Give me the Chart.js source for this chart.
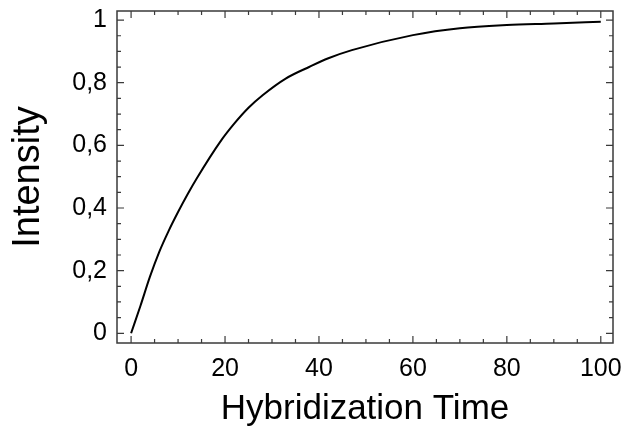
<!DOCTYPE html>
<html>
<head>
<meta charset="utf-8">
<script src="https://cdn.jsdelivr.net/npm/chart.js@4/dist/chart.umd.min.js"></script>
<style>
  html, body { margin: 0; padding: 0; background: #fff; }
</style>
</head>
<body>
<canvas id="myChart" width="623" height="435"></canvas>
<script>
// values
const hybTime = [0, 2, 4, 6, 8, 10, 12, 14, 19, 22, 25, 28, 33, 38, 42, 47, 60, 70, 80, 90, 100];
const intensity = [0, 0.088, 0.18, 0.26, 0.327, 0.387, 0.443, 0.495, 0.612, 0.67, 0.72, 0.76, 0.814, 0.851, 0.878, 0.904, 0.952, 0.974, 0.984, 0.989, 0.995];

const xTickValues = [0, 20, 40, 60, 80, 100];
const xTickLabels = ['0', '20', '40', '60', '80', '100'];
const yTickValues = [0, 0.2, 0.4, 0.6, 0.8, 1];
const yTickLabels = ['0', '0,2', '0,4', '0,6', '0,8', '1'];

// frame on all four sides with inward ticks
const frameTicks = {
  id: 'frameTicks',
  afterDraw(chart) {
    const { ctx, chartArea: a, scales: { x, y } } = chart;
    ctx.save();
    ctx.strokeStyle = '#3a3a3a';
    ctx.lineWidth = 1.5;
    ctx.strokeRect(a.left, a.top, a.right - a.left, a.bottom - a.top);
    ctx.lineWidth = 1.2;
    ctx.beginPath();
    for (let i = 0; i <= 20; i++) {
      const px = x.getPixelForValue(i * 5);
      const len = i % 4 === 0 ? 7 : 4;
      ctx.moveTo(px, a.bottom); ctx.lineTo(px, a.bottom - len);
      ctx.moveTo(px, a.top); ctx.lineTo(px, a.top + len);
    }
    for (let i = 0; i <= 20; i++) {
      const py = y.getPixelForValue(i * 0.05);
      const len = i % 4 === 0 ? 7 : 4;
      ctx.moveTo(a.left, py); ctx.lineTo(a.left + len, py);
      ctx.moveTo(a.right, py); ctx.lineTo(a.right - len, py);
    }
    ctx.stroke();
    ctx.restore();
  }
};

const fontFam = "'Liberation Sans', Arial, sans-serif";

const config = {
  type: 'line',
  data: {
    datasets: [{
      data: hybTime.map((t, i) => ({ x: t, y: intensity[i] })),
      borderColor: '#000',
      borderWidth: 2,
      pointRadius: 0,
      cubicInterpolationMode: 'monotone',
      fill: false,
    }],
  },
  options: {
    responsive: false,
    animation: false,
    layout: { padding: { top: 11, right: 10, left: 0, bottom: 0 } },
    plugins: { legend: { display: false }, tooltip: { enabled: false } },
    scales: {
      x: {
        type: 'linear',
        min: -3,
        max: 102.6,
        afterBuildTicks: s => { s.ticks = xTickValues.map(v => ({ value: v })); },
        afterFit: s => { s.height = 92; s.paddingLeft = 0; s.paddingRight = 0; },
        ticks: {
          callback: (v, i) => xTickLabels[i],
          font: { family: fontFam, size: 25 },
          color: '#000',
          padding: 11,
          maxRotation: 0,
          autoSkip: false,
        },
        grid: { display: false, drawTicks: false },
        border: { display: false },
        title: {
          display: true,
          text: 'Hybridization Time',
          font: { family: fontFam, size: 35 },
          color: '#000',
          padding: { top: 0, bottom: 5 },
        },
      },
      y: {
        type: 'linear',
        min: -0.031,
        max: 1.029,
        afterBuildTicks: s => { s.ticks = yTickValues.map(v => ({ value: v })); },
        afterFit: s => { s.width = 117; s.paddingTop = 0; s.paddingBottom = 0; },
        ticks: {
          callback: (v, i) => yTickLabels[i],
          font: { family: fontFam, size: 25 },
          color: '#000',
          padding: 10,
          autoSkip: false,
        },
        grid: { display: false, drawTicks: false },
        border: { display: false },
        title: {
          display: true,
          text: 'Intensity',
          font: { family: fontFam, size: 38 },
          color: '#000',
          padding: { top: 6, bottom: 0 },
        },
      },
    },
  },
  plugins: [frameTicks],
};

const myChart = new Chart(document.getElementById('myChart'), config);
</script>
</body>
</html>
